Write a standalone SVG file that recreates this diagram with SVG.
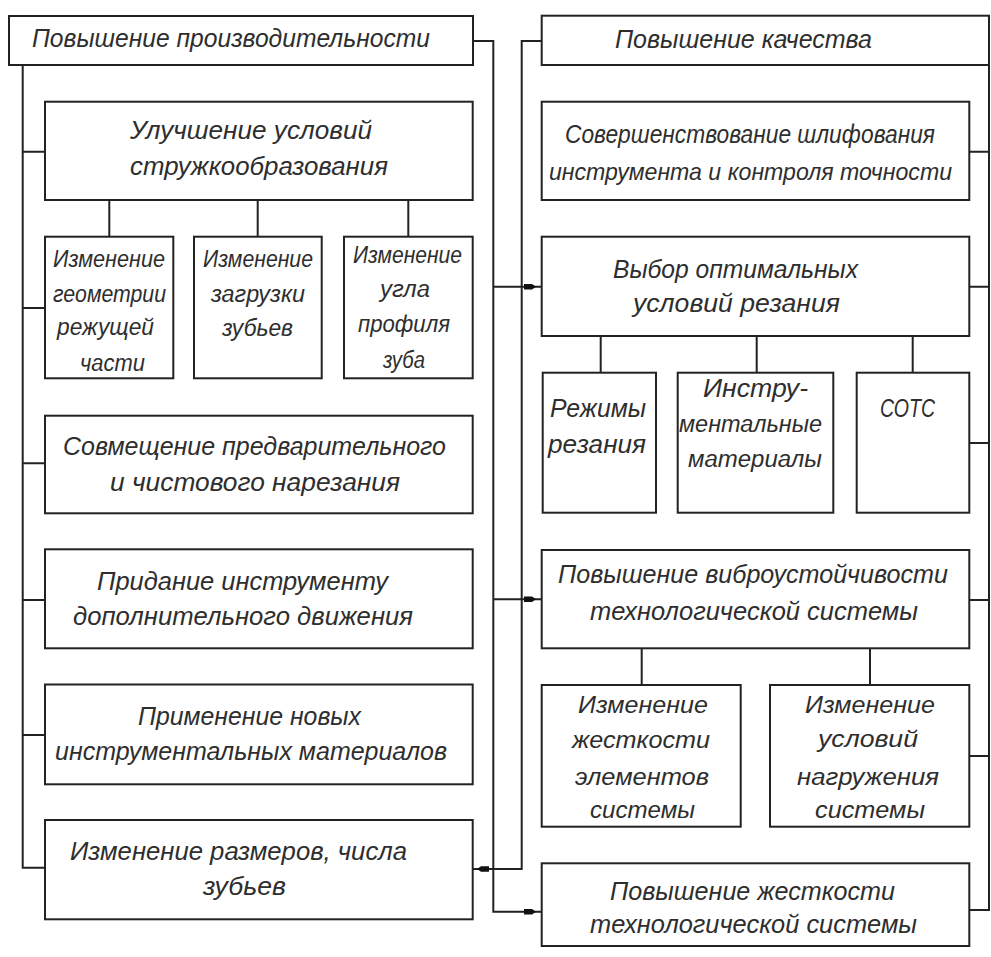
<svg xmlns="http://www.w3.org/2000/svg" xmlns:xlink="http://www.w3.org/1999/xlink" width="991" height="957" viewBox="0 0 991 957">
  <style>
    .box { fill: #fff; stroke: #222; stroke-width: 2; }
    .ln { fill: none; stroke: #222; stroke-width: 2; }
    .ah { fill: #111; }
    text { font-family: "Liberation Sans", "DejaVu Sans", sans-serif; font-style: italic; font-size: 26px; fill: #2e2e2e; }
    text.s { font-size: 23px; }
    text.m { font-size: 24px; }
  </style>
  <defs>
    <!-- small filled arrowhead, pointing to +x -->
    <path id="ah" class="ah" d="M-6,-2.8 H2 L6,0 L2,2.8 H-6 Z"/>
  </defs>
  <rect width="991" height="957" fill="#fff"/>

  <!-- connectors -->
  <g id="connectors">
    <!-- left bus -->
    <path class="ln" d="M22.7,65 V867.7 H45"/>
    <path class="ln" d="M22.7,151.7 H45 M22.7,308 H45 M22.7,463.3 H45 M22.7,600 H45 M22.7,735 H45"/>
    <path class="ln" d="M109.3,200 V236.7 M257.7,200 V236.7 M408.3,200 V236.7"/>
    <!-- productivity to quality-side blocks -->
    <path class="ln" d="M473,41 H493.3 V911.7 H541.7"/>
    <path class="ln" d="M493.3,286.7 H541.7 M493.3,599.3 H541.7"/>
    <!-- quality to size change block -->
    <path class="ln" d="M541.7,41 H521.7 V869 H473"/>
    <!-- right bus -->
    <path class="ln" d="M989,65 V910 H969.3"/>
    <path class="ln" d="M969.3,151.7 H989 M969.3,286.7 H989 M969.3,443 H989 M969.3,600 H989 M969.3,756 H989"/>
    <path class="ln" d="M600.7,336 V372.7 M756.7,336 V372.7 M912.7,336 V372.7 M641.7,648.3 V685 M870,648.3 V685"/>
    <!-- arrowheads -->
    <use xlink:href="#ah" x="530" y="286.7"/>
    <use xlink:href="#ah" x="530" y="599.3"/>
    <use xlink:href="#ah" x="530" y="911.7"/>
    <use xlink:href="#ah" transform="translate(483,869) scale(-1,1)"/>
  </g>

  <!-- left column -->
  <g id="n-productivity">
    <rect class="box" x="9" y="16" width="464" height="49"/>
    <text x="32" y="47" textLength="398" lengthAdjust="spacingAndGlyphs">Повышение производительности</text>
  </g>
  <g id="n-chip">
    <rect class="box" x="45" y="101.7" width="427.7" height="98.3"/>
    <text x="130" y="139.3" textLength="242" lengthAdjust="spacingAndGlyphs">Улучшение условий</text>
    <text x="130" y="175" textLength="258" lengthAdjust="spacingAndGlyphs">стружкообразования</text>
  </g>
  <g id="n-geometry">
    <rect class="box" x="45" y="236.7" width="128.3" height="141.6"/>
    <text class="s" x="53" y="266.7" textLength="112" lengthAdjust="spacingAndGlyphs">Изменение</text>
    <text class="s" x="53" y="301.5" textLength="113" lengthAdjust="spacingAndGlyphs">геометрии</text>
    <text class="s" x="57" y="335" textLength="97" lengthAdjust="spacingAndGlyphs">режущей</text>
    <text class="s" x="80" y="371" textLength="65" lengthAdjust="spacingAndGlyphs">части</text>
  </g>
  <g id="n-load">
    <rect class="box" x="194" y="236.7" width="127.7" height="141.6"/>
    <text class="s" x="203" y="266.7" textLength="110" lengthAdjust="spacingAndGlyphs">Изменение</text>
    <text class="s" x="211" y="301.5" textLength="94" lengthAdjust="spacingAndGlyphs">загрузки</text>
    <text class="s" x="222" y="335.5" textLength="71" lengthAdjust="spacingAndGlyphs">зубьев</text>
  </g>
  <g id="n-angle">
    <rect class="box" x="344" y="236.7" width="128.7" height="141.6"/>
    <text class="s" x="353" y="263.3" textLength="109" lengthAdjust="spacingAndGlyphs">Изменение</text>
    <text class="s" x="380" y="297" textLength="50" lengthAdjust="spacingAndGlyphs">угла</text>
    <text class="s" x="358" y="332" textLength="92" lengthAdjust="spacingAndGlyphs">профиля</text>
    <text class="s" x="383" y="368" textLength="42" lengthAdjust="spacingAndGlyphs">зуба</text>
  </g>
  <g id="n-combine">
    <rect class="box" x="45" y="415.7" width="427.7" height="97.6"/>
    <text x="63" y="455" textLength="383" lengthAdjust="spacingAndGlyphs">Совмещение предварительного</text>
    <text x="110" y="490.7" textLength="290" lengthAdjust="spacingAndGlyphs">и чистового нарезания</text>
  </g>
  <g id="n-motion">
    <rect class="box" x="45" y="549.3" width="427.7" height="99"/>
    <text x="97" y="590" textLength="291" lengthAdjust="spacingAndGlyphs">Придание инструменту</text>
    <text x="73" y="625" textLength="340" lengthAdjust="spacingAndGlyphs">дополнительного движения</text>
  </g>
  <g id="n-materials">
    <rect class="box" x="45" y="684.5" width="427.7" height="99.8"/>
    <text x="138" y="725" textLength="223" lengthAdjust="spacingAndGlyphs">Применение новых</text>
    <text x="55" y="760" textLength="392" lengthAdjust="spacingAndGlyphs">инструментальных материалов</text>
  </g>
  <g id="n-size">
    <rect class="box" x="45" y="820" width="427.7" height="99.3"/>
    <text x="70" y="860" textLength="337" lengthAdjust="spacingAndGlyphs">Изменение размеров, числа</text>
    <text x="203" y="895" textLength="83" lengthAdjust="spacingAndGlyphs">зубьев</text>
  </g>

  <!-- right column -->
  <g id="n-quality">
    <rect class="box" x="541.7" y="15.7" width="447.3" height="49.3"/>
    <text x="615" y="48" textLength="257" lengthAdjust="spacingAndGlyphs">Повышение качества</text>
  </g>
  <g id="n-grinding">
    <rect class="box" x="541.7" y="101.7" width="427.6" height="98.3"/>
    <text x="565" y="143.3" textLength="370" lengthAdjust="spacingAndGlyphs">Совершенствование шлифования</text>
    <text class="m" x="549" y="180" textLength="403" lengthAdjust="spacingAndGlyphs">инструмента и контроля точности</text>
  </g>
  <g id="n-cutting">
    <rect class="box" x="541.7" y="236.7" width="427.6" height="99.3"/>
    <text x="613" y="278.3" textLength="245" lengthAdjust="spacingAndGlyphs">Выбор оптимальных</text>
    <text x="633" y="312" textLength="207" lengthAdjust="spacingAndGlyphs">условий резания</text>
  </g>
  <g id="n-modes">
    <rect class="box" x="542.7" y="372.7" width="113.3" height="140"/>
    <text x="550" y="416.7" textLength="96" lengthAdjust="spacingAndGlyphs">Режимы</text>
    <text x="548" y="452.5" textLength="98" lengthAdjust="spacingAndGlyphs">резания</text>
  </g>
  <g id="n-toolmat">
    <rect class="box" x="677.7" y="372.7" width="155.6" height="140"/>
    <text x="703" y="397" textLength="105" lengthAdjust="spacingAndGlyphs">Инстру-</text>
    <text class="s" x="679" y="431.7" textLength="143" lengthAdjust="spacingAndGlyphs">ментальные</text>
    <text class="s" x="688" y="466.7" textLength="134" lengthAdjust="spacingAndGlyphs">материалы</text>
  </g>
  <g id="n-coolant">
    <rect class="box" x="856.7" y="372.7" width="112.6" height="140"/>
    <text x="880" y="416.7" textLength="55" lengthAdjust="spacingAndGlyphs">СОТС</text>
  </g>
  <g id="n-vibration">
    <rect class="box" x="541.7" y="550" width="427.6" height="98.3"/>
    <text x="558" y="583.3" textLength="390" lengthAdjust="spacingAndGlyphs">Повышение виброустойчивости</text>
    <text x="590" y="620" textLength="328" lengthAdjust="spacingAndGlyphs">технологической системы</text>
  </g>
  <g id="n-stiff-elements">
    <rect class="box" x="541.7" y="685" width="199" height="141.7"/>
    <text class="s" x="578" y="713.3" textLength="130" lengthAdjust="spacingAndGlyphs">Изменение</text>
    <text class="s" x="572" y="748.3" textLength="138" lengthAdjust="spacingAndGlyphs">жесткости</text>
    <text class="s" x="575" y="785" textLength="134" lengthAdjust="spacingAndGlyphs">элементов</text>
    <text class="s" x="590" y="818.3" textLength="105" lengthAdjust="spacingAndGlyphs">системы</text>
  </g>
  <g id="n-loading">
    <rect class="box" x="770" y="685" width="199.3" height="141.7"/>
    <text class="s" x="805" y="713.3" textLength="130" lengthAdjust="spacingAndGlyphs">Изменение</text>
    <text class="s" x="818" y="747" textLength="100" lengthAdjust="spacingAndGlyphs">условий</text>
    <text class="s" x="797" y="785" textLength="142" lengthAdjust="spacingAndGlyphs">нагружения</text>
    <text class="s" x="815" y="818.3" textLength="110" lengthAdjust="spacingAndGlyphs">системы</text>
  </g>
  <g id="n-rigidity">
    <rect class="box" x="541.7" y="863.3" width="427.6" height="82.7"/>
    <text x="610" y="900" textLength="285" lengthAdjust="spacingAndGlyphs">Повышение жесткости</text>
    <text x="590" y="933.3" textLength="327" lengthAdjust="spacingAndGlyphs">технологической системы</text>
  </g>
</svg>
